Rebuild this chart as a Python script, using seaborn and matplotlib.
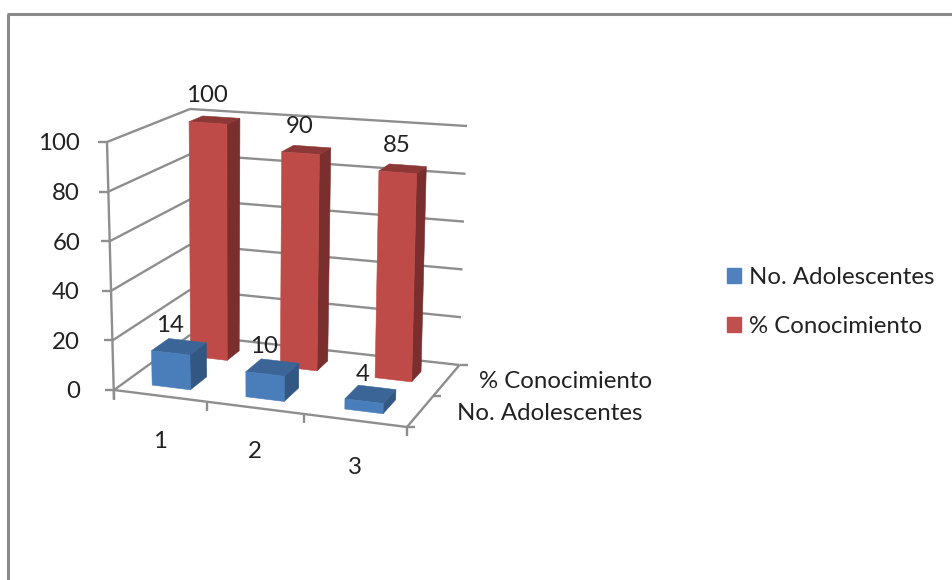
import numpy as np
import matplotlib
matplotlib.use("Agg")
import matplotlib.pyplot as plt
from matplotlib.lines import Line2D
from matplotlib.patches import Patch
import seaborn as sns

# Chart data
categories = ["1", "2", "3"]
series_names = ["No. Adolescentes", "% Conocimiento"]
adolescentes = [14, 10, 4]
conocimiento = [100, 90, 85]
value_ticks = [0, 20, 40, 60, 80, 100]

# Face colours per series: front, top, side
front_colors = ["#4a7ebb", "#be4b48"]
top_colors = ["#3b6596", "#8c3836"]
side_colors = ["#325782", "#7a2f2e"]
legend_colors = ["#4f81bd", "#c0504d"]
axis_color = "#8e8e8e"
text_color = "#222222"

# Box corners of the oblique view, keyed (category end, depth end), in canvas pixels
floor_corners = {(0, 0): (114, 390), (1, 0): (407, 427), (0, 1): (190, 335), (1, 1): (459.5, 365)}
roof_corners = {(0, 0): (107, 142), (1, 0): (412, 166), (0, 1): (190, 109), (1, 1): (467, 126)}
# Foreshortened category boundaries along the front edge
category_edges = [0.0, 0.317, 0.648, 1.0]


def bilinear(corners, u, d):
    p00, p10 = np.array(corners[(0, 0)], float), np.array(corners[(1, 0)], float)
    p01, p11 = np.array(corners[(0, 1)], float), np.array(corners[(1, 1)], float)
    return (1 - d) * ((1 - u) * p00 + u * p10) + d * ((1 - u) * p01 + u * p11)


def project(u, d, value):
    """Map category fraction, depth fraction and value to canvas pixels."""
    base = bilinear(floor_corners, u, d)
    roof = bilinear(roof_corners, u, d)
    return tuple(base + (roof - base) * value / 100.0)


sns.set_theme(style="white")
plt.rcParams["font.family"] = ["Lato", "DejaVu Sans"]

fig = plt.figure(figsize=(9.52, 5.80), dpi=100, facecolor="white")
ax = fig.add_axes([0, 0, 1, 1])
ax.set_xlim(0, 952)
ax.set_ylim(580, 0)
ax.axis("off")

label_size = 17.3


def seg(p, q, lw=1.7, color=axis_color, z=1):
    ax.add_line(Line2D([p[0], q[0]], [p[1], q[1]], lw=lw, color=color, zorder=z,
                       solid_capstyle="butt"))


# Outer chart frame
seg((8, 580), (8, 14), lw=2.2, color="#8a8a8a")
seg((7, 14), (952, 14), lw=2.2, color="#8a8a8a")

# Walls: value gridlines on the left and back planes
for v in value_ticks:
    seg(project(0, 0, v), project(0, 1, v))
    seg(project(0, 1, v), project(1, 1, v))
    fx, fy = project(0, 0, v)
    seg((fx - 9, fy), (fx, fy))
    ax.text(80, fy + 2, str(v), ha="right", va="center", fontsize=label_size, color=text_color)

# Value axis and floor edges
x0, y0 = project(0, 0, 0)
seg((x0, y0 + 10), project(0, 0, 100))
seg(project(0, 0, 0), project(1, 0, 0))
seg(project(1, 0, 0), project(1, 1, 0))

# Category ticks and labels along the front edge
for edge in category_edges:
    x, y = project(edge, 0, 0)
    seg((x, y), (x, y + 9))
label_pos = [(160, 442), (255, 452), (355, 467)]
for name, (x, y) in zip(categories, label_pos):
    ax.text(x, y, name, ha="center", va="center", fontsize=label_size, color=text_color)

# Depth ticks on the right floor edge
for i in range(3):
    x, y = project(1, i / 2, 0)
    seg((x, y), (x + 8, y))
ax.text(479, 381.5, series_names[1], ha="left", va="center", fontsize=label_size, color=text_color)
ax.text(457, 413.5, series_names[0], ha="left", va="center", fontsize=label_size, color=text_color)

# Bars, back row first so the front row overlaps it
bar_half_u = 0.066
depth_ranges = {0: (0.15, 0.38), 1: (0.67, 0.84)}
rows = [(1, conocimiento), (0, adolescentes)]
for s, values in rows:
    d0, d1 = depth_ranges[s]
    for i, v in enumerate(values):
        uc = (category_edges[i] + category_edges[i + 1]) / 2
        u0, u1 = uc - bar_half_u, uc + bar_half_u
        z = 5 + (1 - s) * 5 + i * 0.1
        side = [project(u1, d0, 0), project(u1, d1, 0), project(u1, d1, v), project(u1, d0, v)]
        top = [project(u0, d0, v), project(u1, d0, v), project(u1, d1, v), project(u0, d1, v)]
        front = [project(u0, d0, 0), project(u1, d0, 0), project(u1, d0, v), project(u0, d0, v)]
        for face, col in ((side, side_colors[s]), (top, top_colors[s]), (front, front_colors[s])):
            ax.fill(*zip(*face), facecolor=col, edgecolor=col, lw=0.4, zorder=z)
        lx, ly = project(uc, d0, v)
        ax.annotate(str(v), (lx, ly), xytext=(-0.7, 19.5), textcoords="offset points",
                    ha="center", va="center", fontsize=label_size, color=text_color, zorder=20)

# Series legend
handles = [Patch(facecolor=c, edgecolor=c) for c in legend_colors]
ax.legend(handles, series_names, loc="center left", bbox_to_anchor=(727 / 952, 1 - 302 / 580),
          bbox_transform=fig.transFigure, frameon=False, fontsize=label_size, labelcolor=text_color,
          handlelength=0.58, handleheight=0.58, handletextpad=0.34, labelspacing=1.17,
          borderpad=0, borderaxespad=0)

fig.savefig("out.png", dpi=100)
